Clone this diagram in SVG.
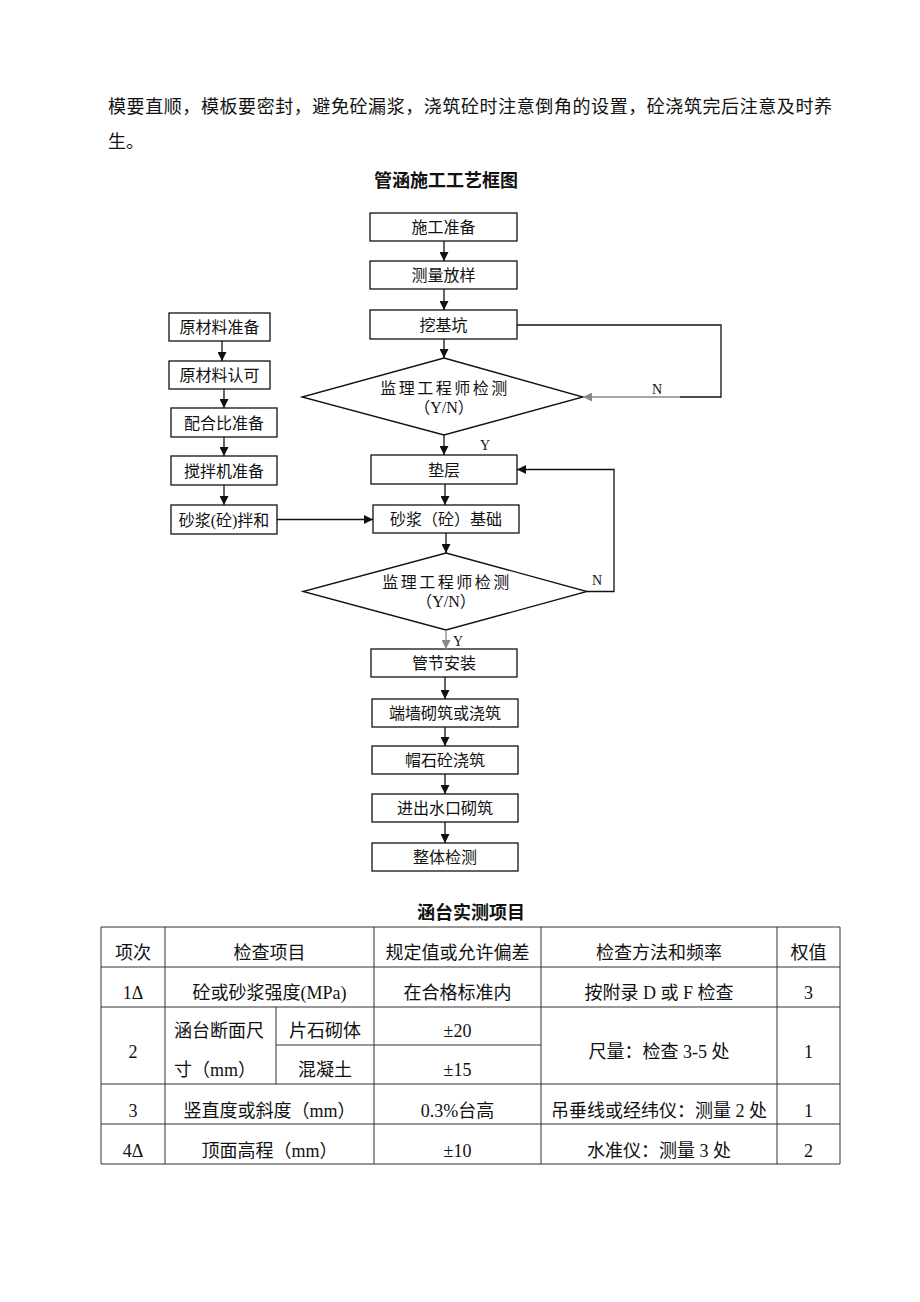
<svg xmlns="http://www.w3.org/2000/svg" width="920" height="1302" viewBox="0 0 920 1302">
<style>
text{font-family:"Liberation Serif","Noto Sans CJK SC",serif;fill:#111}
.body{font-size:18px}
.title{font-size:18px;font-weight:bold;text-anchor:middle}
.box rect,.box polygon{fill:#fff;stroke:#111;stroke-width:1.3}
.box text{font-size:16px;text-anchor:middle}
.dtext{letter-spacing:2.5px}
.lbl{font-size:14px;text-anchor:middle}
.conn line,.conn polyline{fill:none;stroke:#111;stroke-width:1.3}
.conn .gray{stroke:#888}
.tbl line{stroke:#333;stroke-width:1}
.tbl text{font-size:18px;text-anchor:middle}
</style>
<defs>
<marker id="ah" viewBox="0 0 10 10" refX="10" refY="5" markerUnits="userSpaceOnUse" markerWidth="9" markerHeight="9" orient="auto"><path d="M0,0 L10,5 L0,10 z" fill="#111"/></marker>
<marker id="ahg" viewBox="0 0 10 10" refX="10" refY="5" markerUnits="userSpaceOnUse" markerWidth="9" markerHeight="9" orient="auto"><path d="M0,0 L10,5 L0,10 z" fill="#888"/></marker>
</defs>
<rect width="920" height="1302" fill="#fff"/>

<g id="paragraph">
<text class="body" x="108" y="113" textLength="724" lengthAdjust="spacing">模要直顺，模板要密封，避免砼漏浆，浇筑砼时注意倒角的设置，砼浇筑完后注意及时养</text>
<text class="body" x="108" y="148">生。</text>
</g>
<text id="chart-title" class="title" x="446" y="187">管涵施工工艺框图</text>

<g id="n-shigong" class="box"><rect x="370" y="213" width="147" height="28"/><text x="443.5" y="233">施工准备</text></g>
<g id="n-celiang" class="box"><rect x="370" y="261" width="147" height="28"/><text x="443.5" y="281">测量放样</text></g>
<g id="n-wajikeng" class="box"><rect x="370" y="310" width="147" height="29"/><text x="443.5" y="330.5">挖基坑</text></g>
<g id="n-check1" class="box"><polygon points="444,358 583,397 444,435 302,397"/><text class="dtext" x="445" y="394">监理工程师检测</text><text x="444" y="413">（Y/N）</text></g>
<g id="n-dianceng" class="box"><rect x="371" y="455" width="146" height="29"/><text x="444" y="475.5">垫层</text></g>
<g id="n-jichu" class="box"><rect x="373" y="505" width="146" height="28"/><text x="446" y="525">砂浆（砼）基础</text></g>
<g id="n-check2" class="box"><polygon points="446,553 587,591.5 446,630 303,591.5"/><text class="dtext" x="447" y="588">监理工程师检测</text><text x="446" y="607">（Y/N）</text></g>
<g id="n-guanjie" class="box"><rect x="371" y="649" width="146" height="28"/><text x="444" y="669">管节安装</text></g>
<g id="n-duanqiang" class="box"><rect x="372" y="699" width="146" height="28"/><text x="445" y="719">端墙砌筑或浇筑</text></g>
<g id="n-maoshi" class="box"><rect x="372" y="746" width="146" height="28"/><text x="445" y="766">帽石砼浇筑</text></g>
<g id="n-jinchu" class="box"><rect x="372" y="794" width="146" height="28"/><text x="445" y="814">进出水口砌筑</text></g>
<g id="n-zhengti" class="box"><rect x="372" y="843" width="146" height="28"/><text x="445" y="863">整体检测</text></g>

<g id="n-yuancailiao" class="box"><rect x="169" y="313" width="101" height="28"/><text x="219.5" y="333">原材料准备</text></g>
<g id="n-renke" class="box"><rect x="169" y="361" width="101" height="28"/><text x="219.5" y="381">原材料认可</text></g>
<g id="n-peihebi" class="box"><rect x="171" y="408" width="106" height="29"/><text x="224" y="428.5">配合比准备</text></g>
<g id="n-jiaobanji" class="box"><rect x="171" y="456" width="106" height="29"/><text x="224" y="476.5">搅拌机准备</text></g>
<g id="n-banhe" class="box"><rect x="171" y="505" width="106" height="29"/><text x="224" y="525.5">砂浆(砼)拌和</text></g>

<g id="connectors" class="conn">
<line x1="444" y1="241" x2="444" y2="261" marker-end="url(#ah)"/>
<line x1="444" y1="289" x2="444" y2="310" marker-end="url(#ah)"/>
<line x1="444" y1="339" x2="444" y2="358" marker-end="url(#ah)"/>
<line x1="444" y1="435" x2="444" y2="455" marker-end="url(#ah)"/>
<line x1="445" y1="484" x2="445" y2="505" marker-end="url(#ah)"/>
<line x1="446" y1="533" x2="446" y2="553" marker-end="url(#ah)"/>
<line class="gray" x1="446" y1="630" x2="446" y2="649" marker-end="url(#ahg)"/>
<line x1="445" y1="677" x2="445" y2="699" marker-end="url(#ah)"/>
<line x1="445" y1="727" x2="445" y2="746" marker-end="url(#ah)"/>
<line x1="445" y1="774" x2="445" y2="794" marker-end="url(#ah)"/>
<line x1="445" y1="822" x2="445" y2="843" marker-end="url(#ah)"/>
<polyline points="517,325 721,325 721,397 680,397"/>
<line class="gray" x1="680" y1="397" x2="583" y2="397" marker-end="url(#ahg)"/>
<polyline points="587,591.5 614,591.5 614,469.5 517,469.5" marker-end="url(#ah)"/>
<line x1="222" y1="341" x2="222" y2="361" marker-end="url(#ah)"/>
<line x1="224" y1="389" x2="224" y2="408" marker-end="url(#ah)"/>
<line x1="224" y1="437" x2="224" y2="456" marker-end="url(#ah)"/>
<line x1="224" y1="485" x2="224" y2="505" marker-end="url(#ah)"/>
<line x1="277" y1="519.5" x2="373" y2="519.5" marker-end="url(#ah)"/>
<text class="lbl" x="657" y="394">N</text>
<text class="lbl" x="485" y="450">Y</text>
<text class="lbl" x="597" y="585">N</text>
<text class="lbl" x="458" y="646">Y</text>
</g>

<text id="table-title" class="title" x="471" y="919">涵台实测项目</text>
<g id="table" class="tbl">
<line x1="101" y1="927" x2="840" y2="927"/>
<line x1="101" y1="967" x2="840" y2="967"/>
<line x1="101" y1="1007" x2="840" y2="1007"/>
<line x1="276" y1="1045" x2="541" y2="1045"/>
<line x1="101" y1="1084" x2="840" y2="1084"/>
<line x1="101" y1="1124" x2="840" y2="1124"/>
<line x1="101" y1="1164" x2="840" y2="1164"/>
<line x1="101" y1="927" x2="101" y2="1164"/>
<line x1="165" y1="927" x2="165" y2="1164"/>
<line x1="276" y1="1007" x2="276" y2="1084"/>
<line x1="374" y1="927" x2="374" y2="1164"/>
<line x1="541" y1="927" x2="541" y2="1164"/>
<line x1="777" y1="927" x2="777" y2="1164"/>
<line x1="840" y1="927" x2="840" y2="1164"/>
<text x="133" y="958.5">项次</text>
<text x="269.5" y="958.5">检查项目</text>
<text x="457.5" y="958.5">规定值或允许偏差</text>
<text x="659" y="958.5">检查方法和频率</text>
<text x="808.5" y="958.5">权值</text>
<text x="133" y="998.5">1Δ</text>
<text x="269.5" y="998.5">砼或砂浆强度(MPa)</text>
<text x="457.5" y="998.5">在合格标准内</text>
<text x="659" y="998.5">按附录 D 或 F 检查</text>
<text x="808.5" y="998.5">3</text>
<text x="133" y="1057.5">2</text>
<text x="174" y="1036.5" style="text-anchor:start">涵台断面尺</text>
<text x="174" y="1075.5" style="text-anchor:start">寸（mm）</text>
<text x="325" y="1036.5">片石砌体</text>
<text x="325" y="1075.5">混凝土</text>
<text x="457.5" y="1036.5">±20</text>
<text x="457.5" y="1075.5">±15</text>
<text x="659" y="1057.5">尺量：检查 3-5 处</text>
<text x="808.5" y="1057.5">1</text>
<text x="133" y="1116.5">3</text>
<text x="269.5" y="1116.5">竖直度或斜度（mm）</text>
<text x="457.5" y="1116.5">0.3%台高</text>
<text x="659" y="1116.5">吊垂线或经纬仪：测量 2 处</text>
<text x="808.5" y="1116.5">1</text>
<text x="133" y="1156.5">4Δ</text>
<text x="269.5" y="1156.5">顶面高程（mm）</text>
<text x="457.5" y="1156.5">±10</text>
<text x="659" y="1156.5">水准仪：测量 3 处</text>
<text x="808.5" y="1156.5">2</text>
</g>
</svg>
